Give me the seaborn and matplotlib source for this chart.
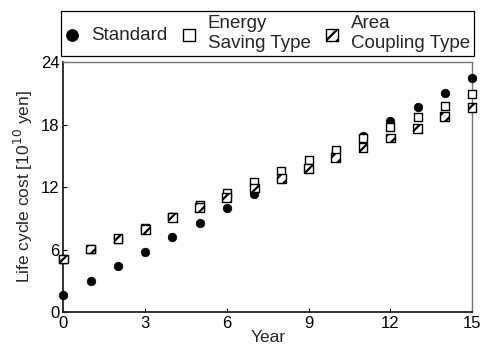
import seaborn as sns
import matplotlib.pyplot as plt
import pandas as pd

# Data
years = list(range(16))
standard = [1.6, 2.97, 4.43, 5.75, 7.16, 8.57, 9.98, 11.3, 12.75, 14.05, 15.45, 16.9, 18.35, 19.65, 21.05, 22.5]
energy_saving = [5.1, 6.05, 7.05, 8.05, 9.17, 10.28, 11.4, 12.5, 13.5, 14.6, 15.6, 16.7, 17.75, 18.75, 19.75, 20.95]
area_coupling = [5.1, 6.05, 7.05, 7.95, 9.07, 10.0, 11.0, 11.9, 12.8, 13.8, 14.8, 15.8, 16.7, 17.65, 18.75, 19.65]

labels = ["Standard", "Energy\nSaving Type", "Area\nCoupling Type"]
x_ticks = [0, 3, 6, 9, 12, 15]
y_ticks = [0, 6, 12, 18, 24]

df = pd.DataFrame({"Year": years, "Standard": standard,
                   "Energy": energy_saving, "Area": area_coupling})

sns.set_style("white")
plt.rcParams['font.family'] = ['Liberation Sans', 'DejaVu Sans']
plt.rcParams['hatch.linewidth'] = 1.6

fig = plt.figure(figsize=(4.91, 3.56), dpi=100)
ax = fig.add_axes([0.1293, 0.1236, 0.832, 0.702])

sns.scatterplot(data=df, x="Year", y="Standard", ax=ax, marker='o', s=38,
                color='black', edgecolor='black', linewidth=0.5,
                label=labels[0], clip_on=False, zorder=3)
sns.scatterplot(data=df, x="Year", y="Energy", ax=ax, marker='s', s=40,
                facecolor='white', edgecolor='black', linewidth=1.0,
                label=labels[1], clip_on=False, zorder=4)
sns.scatterplot(data=df, x="Year", y="Area", ax=ax, marker='s', s=40,
                facecolor='white', edgecolor='black', linewidth=1.0, hatch='///',
                label=labels[2], clip_on=False, zorder=5)

ax.set_xlim(0, 15)
ax.set_ylim(0, 24)
ax.set_xticks(x_ticks)
ax.set_yticks(y_ticks)
ax.tick_params(direction='in', length=3, width=0.8, labelsize=12, pad=3,
               bottom=True, left=True, top=False, right=False, colors='black')
ax.set_xlabel("Year", fontsize=12.5, labelpad=-1)
ax.set_ylabel("Life cycle cost [10$^{10}$ yen]", fontsize=12.5, labelpad=4)

for side in ['left', 'bottom']:
    ax.spines[side].set_color('#222222')
    ax.spines[side].set_linewidth(1.3)
for side in ['top', 'right']:
    ax.spines[side].set_color('#777777')
    ax.spines[side].set_linewidth(1.0)

leg = ax.legend(loc='lower left', bbox_to_anchor=(61 / 491, 1 - 56 / 356),
                bbox_transform=fig.transFigure, ncol=3, fontsize=13.5,
                frameon=True, fancybox=False, edgecolor='black', framealpha=1,
                borderaxespad=0, handletextpad=0.65, columnspacing=0.75,
                handlelength=0.75, borderpad=0.22, labelspacing=0.1, markerscale=1.4)
leg.get_frame().set_linewidth(0.9)

fig.savefig("out.png", dpi=100)
